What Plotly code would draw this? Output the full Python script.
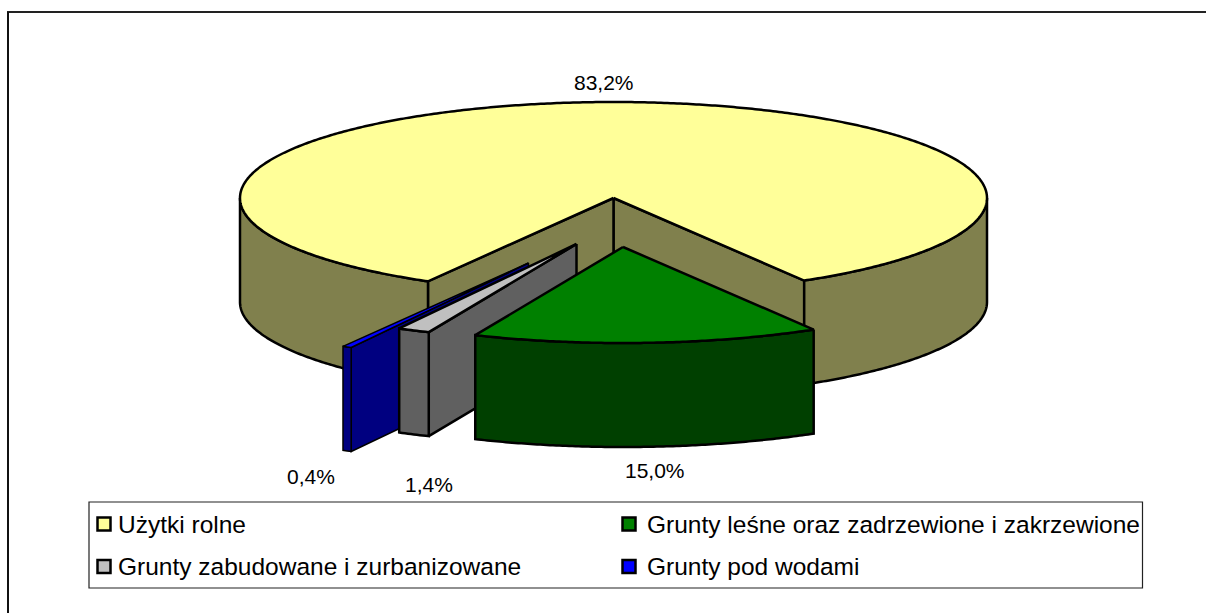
import math
import plotly.graph_objects as go

categories = ["Użytki rolne", "Grunty leśne oraz zadrzewione i zakrzewione",
              "Grunty zabudowane i zurbanizowane", "Grunty pod wodami"]
values = [83.2, 15.0, 1.4, 0.4]
top_colors = ["#FFFF99", "#008000", "#C0C0C0", "#0000FF"]
side_colors = ["#80804D", "#004000", "#606060", "#000080"]

WIDTH, HEIGHT = 1206, 613
CX, CY, RX, RY, DEPTH = 613.5, 198.0, 373.5, 96.0, 104.0
START_DEG = 330.22
EXPLODE = [(0, 0), (9.5, 49), (-37, 46), (-85, 65)]
LINE_W = [2.5, 2.5, 2.5, 1.5]
FONT = "Liberation Sans"
LABEL_FS = 21
LEG_FS = 24.5
LABEL_POS = [(604, 82), (655, 470), (429, 484), (311, 476)]
LEG_BOX = (89, 502, 1142.5, 588)
LEG_ITEMS = [(104, 116, 524), (629, 644.5, 524), (104, 116, 566.5), (629, 644.5, 566.5)]

# slice angles (measured from the front of the pie, going clockwise on screen)
angles = []
a = START_DEG
for v in values:
    b = a - v / sum(values) * 360
    angles.append((a, b))
    a = b


def pt(deg, off, drop=0.0):
    t = math.radians(deg)
    return (CX + off[0] + RX * math.sin(t), CY + off[1] + RY * math.cos(t) + drop)


def arc(d0, d1, off, drop=0.0):
    n = max(2, int(abs(d1 - d0) * 2))
    return [pt(d0 + (d1 - d0) * i / n, off, drop) for i in range(n + 1)]


def apex(off, drop=0.0):
    return (CX + off[0], CY + off[1] + drop)


fig = go.Figure()


def poly(points, color, name, lw):
    xs = [p[0] for p in points] + [points[0][0]]
    ys = [p[1] for p in points] + [points[0][1]]
    fig.add_trace(go.Scatter(x=xs, y=ys, mode="lines", fill="toself", fillcolor=color,
                             line=dict(color="#000000", width=lw, simplify=False),
                             name=name, showlegend=False, hoverinfo="name"))


def wall(d0, d1, off, color, name, lw):
    top = arc(d0, d1, off)
    poly(top + arc(d1, d0, off, DEPTH), color, name, lw)


def inner(deg, off, color, name, lw):
    poly([apex(off), pt(deg, off), pt(deg, off, DEPTH), apex(off, DEPTH)], color, name, lw)


# large slice: inner walls, outer walls, top
a0, a1 = angles[0]
off = EXPLODE[0]
lw = LINE_W[0]
inner(a1, off, side_colors[0], categories[0], lw)
inner(a0, off, side_colors[0], categories[0], lw)
wall(a1, 90, off, side_colors[0], categories[0], lw)
wall(270, a0, off, side_colors[0], categories[0], lw)
poly([apex(off)] + arc(a0, a1, off), top_colors[0], categories[0], lw)

# exploded slices, back to front
for i in (3, 2, 1):
    a0, a1 = angles[i]
    off = EXPLODE[i]
    lw = LINE_W[i]
    if i != 1:
        inner(a0, off, side_colors[i], categories[i], lw)
    wall(a0, a1, off, side_colors[i], categories[i], lw)
    poly([apex(off)] + arc(a0, a1, off), top_colors[i], categories[i], lw)

# legend swatches
for name, col, item in zip(categories, top_colors, LEG_ITEMS):
    fig.add_trace(go.Scatter(x=[item[0]], y=[item[2]], mode="markers", name=name, showlegend=False,
                             marker=dict(symbol="square", size=13, color=col,
                                         line=dict(color="#000000", width=2.5))))
    fig.add_annotation(x=item[1], y=item[2], text=name, showarrow=False, xanchor="left",
                       yanchor="middle", font=dict(family=FONT, size=LEG_FS, color="#000000"))

for v, p in zip(values, LABEL_POS):
    fig.add_annotation(x=p[0], y=p[1], text=f"{v:.1f}%".replace(".", ","), showarrow=False,
                       font=dict(family=FONT, size=LABEL_FS, color="#000000"))

fig.add_shape(type="line", x0=7, y0=12, x1=WIDTH, y1=12, line=dict(color="#222222", width=2), layer="below")
fig.add_shape(type="line", x0=8, y0=12, x1=8, y1=HEIGHT, line=dict(color="#111111", width=2), layer="below")
fig.add_shape(type="rect", x0=LEG_BOX[0], y0=LEG_BOX[1], x1=LEG_BOX[2], y1=LEG_BOX[3],
              line=dict(color="#222222", width=1.2), layer="below")

fig.update_layout(width=WIDTH, height=HEIGHT, margin=dict(l=0, r=0, t=0, b=0),
                  paper_bgcolor="#FFFFFF", plot_bgcolor="#FFFFFF", showlegend=False,
                  xaxis=dict(range=[0, WIDTH], visible=False, fixedrange=True),
                  yaxis=dict(range=[HEIGHT, 0], visible=False, fixedrange=True))
fig.write_html("out.html", config={"displayModeBar": False},
               post_script="document.body.style.margin='0';document.body.style.overflow='hidden';")
